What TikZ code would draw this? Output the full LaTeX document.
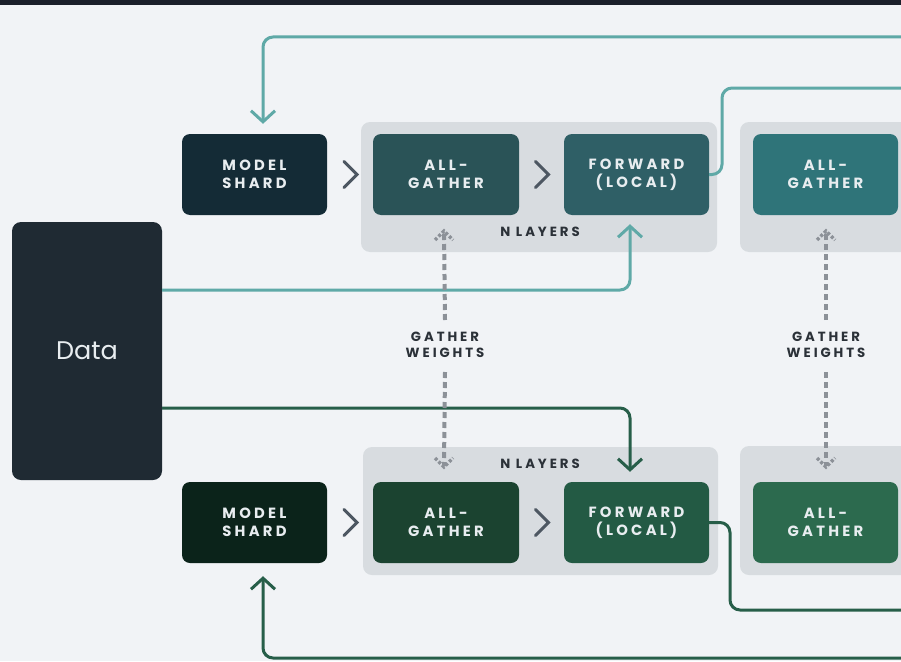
\documentclass[tikz,border=0pt]{standalone}
\usepackage{fontspec}
\setmainfont{Poppins}
\newfontfamily\capfont{Poppins}[LetterSpace=22]
\usetikzlibrary{arrows.meta,calc}

\definecolor{bgcol}{HTML}{F1F3F6}
\definecolor{barcol}{HTML}{1B1F2A}
\definecolor{datacol}{HTML}{1F2A33}
\definecolor{boxtext}{HTML}{E8EDF0}
\definecolor{msA}{HTML}{142B36}
\definecolor{agA}{HTML}{2A5357}
\definecolor{fwA}{HTML}{2F5F66}
\definecolor{agAr}{HTML}{2F7479}
\definecolor{msB}{HTML}{0B231A}
\definecolor{agB}{HTML}{1B4330}
\definecolor{fwB}{HTML}{235A44}
\definecolor{agBr}{HTML}{2C6A4E}
\definecolor{groupcol}{HTML}{D8DCE0}
\definecolor{tealline}{HTML}{5FA9A7}
\definecolor{greenline}{HTML}{275E49}
\definecolor{chevcol}{HTML}{4D5762}
\definecolor{dashcol}{HTML}{8C9198}
\definecolor{labcol}{HTML}{2B3138}

\tikzset{
  stagebox/.style={rounded corners=8pt, minimum width=145pt, minimum height=81pt,
    inner sep=0pt, text=boxtext, align=center,
    font=\capfont\bfseries\fontsize{14.8}{18}\selectfont},
  groupbox/.style={fill=groupcol, rounded corners=9pt, inner sep=0pt},
  caplabel/.style={text=labcol, align=center, inner sep=0pt,
    font=\capfont\bfseries\fontsize{13.3}{16}\selectfont},
  tealflow/.style={draw=tealline, line width=3pt, rounded corners=10pt},
  greenflow/.style={draw=greenline, line width=3pt, rounded corners=10pt},
  vtip/.style={-{Straight Barb[length=11pt,width=24pt,line width=3pt]}},
  chevron/.style={draw=chevcol, line width=3pt, line cap=round, line join=miter},
  gatherline/.style={draw=dashcol, line width=4pt, dash pattern=on 6pt off 4pt},
  gathertip/.style={draw=dashcol, line width=3.5pt, dash pattern=on 3pt off 2pt},
}

\begin{document}
\begin{tikzpicture}[x=1pt,y=-1pt]
\useasboundingbox (0,0) rectangle (901,661);
\clip (0,0) rectangle (901,661);
\fill[bgcol] (0,0) rectangle (901,661);
\fill[barcol] (0,0) rectangle (901,5);

% layer groups
\node[groupbox, minimum width=356pt, minimum height=130pt] (grpA) at (539,187) {};
\node[groupbox, minimum width=180pt, minimum height=130pt] (grpAr) at (830,187) {};
\node[groupbox, minimum width=355pt, minimum height=128pt] (grpB) at (540.5,511) {};
\node[groupbox, minimum width=180pt, minimum height=129pt] (grpBr) at (830,510.5) {};

% data source
\node[fill=datacol, rounded corners=9pt, minimum width=150pt, minimum height=258pt,
      inner sep=0pt, text=boxtext, font=\fontsize{25.5}{30}\selectfont] (data) at (87,351) {Data};

% upper replica
\node[stagebox, fill=msA] (msA) at (254.5,174.5) {MODEL\\SHARD};
\node[stagebox, fill=agA, minimum width=146pt] (agA) at (446,174.5) {ALL-\\GATHER};
\node[stagebox, fill=fwA] (fwA) at (636.5,174.5) {FORWARD\\(LOCAL)};
\node[stagebox, fill=agAr] (agAr) at (825.5,174.5) {ALL-\\GATHER};

% lower replica
\node[stagebox, fill=msB] (msB) at (254.5,522.5) {MODEL\\SHARD};
\node[stagebox, fill=agB, minimum width=146pt] (agB) at (446,522.5) {ALL-\\GATHER};
\node[stagebox, fill=fwB] (fwB) at (636.5,522.5) {FORWARD\\(LOCAL)};
\node[stagebox, fill=agBr] (agBr) at (825.5,522.5) {ALL-\\GATHER};

% group captions
\node[caplabel] (nlA) at (540,232) {N LAYERS};
\node[caplabel] (nlB) at (540,464) {N LAYERS};
\node[caplabel] (gwL) at (445,345) {GATHER\\WEIGHTS};
\node[caplabel] (gwR) at (826,345) {GATHER\\WEIGHTS};

% step chevrons
\foreach \a/\b in {msA/agA, agA/fwA, msB/agB, agB/fwB}{
  \path ($(\a.east)!0.5!(\b.west)$) coordinate (m);
  \draw[chevron] ($(m)+(-6,-13)$) -- ($(m)+(7,0)$) -- ($(m)+(-6,13)$);
}

% loop-back and output lines, upper replica
\coordinate (outA) at (912,88);
\coordinate (loopA) at (912,37);
\draw[tealflow] (fwA.east) -- (722,174.5) -- (722,88) -- (outA);
\draw[tealflow, vtip] (loopA) -- (263,37) -- ([xshift=8.5pt,yshift=10pt]msA.north);
\draw[tealflow, vtip] (data.east |- 0,290) -- (630,290) -- ([xshift=-6.5pt,yshift=-9pt]fwA.south);

% loop-back and output lines, lower replica
\coordinate (outB) at (912,610);
\coordinate (loopB) at (912,658);
\draw[greenflow] (fwB.east) -- (730,522.5) -- (730,610) -- (outB);
\draw[greenflow, vtip] (loopB) -- (263,658) -- ([xshift=8.5pt,yshift=-13pt]msB.south);
\draw[greenflow, vtip] (data.east |- 0,408) -- (630,408) -- ([xshift=-6.5pt,yshift=10pt]fwB.north);

% weight gathering between replicas
\foreach \lab/\x in {gwL/444, gwR/826}{
  \coordinate (up) at (\x,232);
  \coordinate (dn) at (\x,466);
  \draw[gatherline] (\lab.north |- 0,320) -- (up);
  \draw[gatherline] (\lab.south |- 0,372) -- (dn);
  \draw[gathertip] ($(up)+(-9,8)$) -- ($(up)+(0,-1)$) -- ($(up)+(9,8)$);
  \draw[gathertip] ($(dn)+(-9,-8)$) -- ($(dn)+(0,1)$) -- ($(dn)+(9,-8)$);
}
\end{tikzpicture}
\end{document}
